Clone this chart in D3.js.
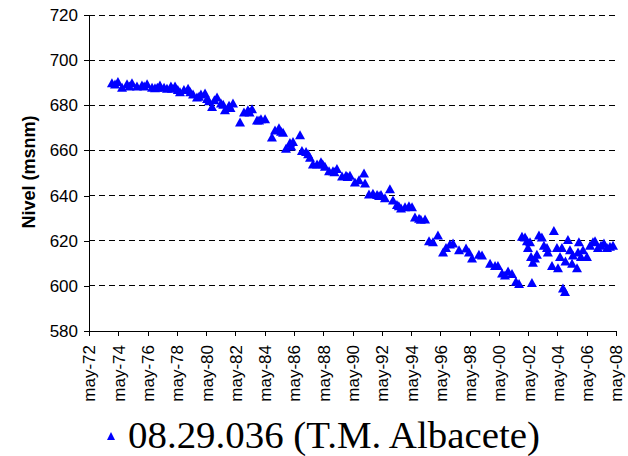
<!DOCTYPE html>
<html>
<head>
<meta charset="utf-8">
<script src="https://cdn.jsdelivr.net/npm/d3@7"></script>
<style>
  html, body { margin: 0; padding: 0; background: #ffffff; }
  svg { display: block; }
  .legend-text { font-family: "Liberation Serif", "DejaVu Serif", "Times New Roman", Times, serif; }
</style>
</head>
<body>
<svg id="chart" width="628" height="456"></svg>
<script>
// ---- Data (decimal year of measurement, level in m s.n.m.) ----
const seriesName = "08.29.036 (T.M. Albacete)";
const dates = [
  1973.90, 1974.11, 1974.31, 1974.59, 1974.93, 1975.27, 1975.61, 1975.95, 1976.30, 1976.64,
  1976.84, 1977.18, 1977.46, 1977.66, 1977.93, 1978.21, 1978.55, 1978.82, 1979.10, 1979.44,
  1979.71, 1979.98, 1980.26, 1980.53, 1980.74, 1981.08, 1981.35, 1981.62, 1981.90, 1982.17,
  1982.65, 1982.92, 1983.19, 1983.47, 1983.81, 1984.08, 1984.36, 1984.83, 1985.04, 1985.31,
  1985.59, 1985.79, 1986.06, 1986.27, 1986.75, 1986.88, 1987.16, 1987.43, 1987.63, 1987.91,
  1988.18, 1988.45, 1988.73, 1989.00, 1989.27, 1989.62, 1989.89, 1990.16, 1990.50, 1990.78,
  1991.12, 1991.19, 1991.46, 1991.73, 1992.01, 1992.28, 1992.55, 1992.89, 1993.10, 1993.37,
  1993.65, 1993.92, 1994.19, 1994.40, 1994.60, 1994.88, 1995.29, 1995.56, 1995.83, 1996.17,
  1996.52, 1996.72, 1996.99, 1997.20, 1997.61, 1998.09, 1998.29, 1998.50, 1998.97, 1999.18,
  1999.73, 2000.07, 2000.27, 2000.55, 2000.75, 2000.96, 2001.23, 2001.50, 2001.71,
  2001.91, 2002.12, 2002.25, 2002.32, 2002.46, 2002.53, 2002.59, 2002.66, 2002.80, 2002.93,
  2003.07, 2003.27, 2003.41, 2003.62, 2003.68, 2003.96, 2004.09, 2004.30, 2004.37, 2004.51,
  2004.64, 2004.71, 2004.85, 2004.88, 2005.05, 2005.19, 2005.33, 2005.39, 2005.67, 2005.74,
  2005.80, 2005.94, 2006.08, 2006.35, 2006.56, 2006.76, 2006.90, 2007.10, 2007.31, 2007.51,
  2007.72, 2007.92, 2008.13,
  1975.10, 1976.10, 1977.00, 1978.00, 1978.40, 1979.25, 1979.85, 1980.40, 1980.90, 1981.50,
  1982.00, 1983.30, 1983.95, 1985.45, 1986.15, 1987.30, 1988.30, 1989.10, 1990.00, 1992.15,
  1993.50, 1995.00
];
const levels = [
  690, 689.4, 690.5, 688, 689.5, 690, 688.5, 689, 689.5, 688,
  687.8, 689, 688, 687.6, 688.5, 688.5, 686, 687, 687.6, 685,
  683.7, 685, 685.4, 682, 679.5, 683.7, 681, 678, 680, 681,
  672.6, 677, 678, 678.5, 673.5, 674, 674, 666, 669, 670,
  668, 661, 663.5, 664, 667, 660, 659.5, 657, 654, 654,
  655, 653, 651, 651, 652, 648.7, 649, 649, 646, 647,
  650, 645.6, 640.7, 641, 640.5, 640.5, 639, 643, 638, 636,
  634.5, 635, 635.5, 635, 630.5, 630, 629.6, 620, 619.5, 622.5,
  615, 617, 618.5, 619, 616, 616.8, 615, 612.3, 614, 613.7,
  610, 609, 609, 605.7, 604.8, 606.6, 605.5, 602, 601,
  622, 621.6, 620, 617, 619.5, 613, 601.5, 610.5, 612.3, 614,
  622.5, 621.6, 618, 617, 615, 609, 624.5, 617, 608, 613,
  617, 599, 597.5, 611, 620.5, 616, 610, 613.7, 608, 615,
  619.5, 613, 616, 613, 618, 619.5, 620, 617, 618, 619,
  617, 617.5, 618,
  688.5, 688.5, 688, 687.5, 687, 686, 684, 683, 682.5, 680.5,
  679, 677, 673.5, 668.5, 662, 658.5, 654, 650.5, 648.5, 640,
  635.5, 629.5
];
const xTickYears = [1972, 1974, 1976, 1978, 1980, 1982, 1984, 1986, 1988, 1990,
                    1992, 1994, 1996, 1998, 2000, 2002, 2004, 2006, 2008];
const xTickLabels = ["may-72", "may-74", "may-76", "may-78", "may-80", "may-82", "may-84",
                     "may-86", "may-88", "may-90", "may-92", "may-94", "may-96", "may-98",
                     "may-00", "may-02", "may-04", "may-06", "may-08"];
const yTicks = [580, 600, 620, 640, 660, 680, 700, 720];
const yTitle = "Nivel (msnm)";

(function () {
// ---- Layout ----
const svg = d3.select("#chart");
const pLeft = 89, pRight = 616, pTop = 15, pBottom = 331;
const MAY = 4 / 12;

const x = d3.scaleLinear().domain([1972 + MAY, 2008 + MAY]).range([pLeft, pRight]);
const y = d3.scaleLinear().domain([580, 720]).range([pBottom, pTop]);

// gridlines
svg.append("g").selectAll("line")
  .data(yTicks.filter(v => v > 580))
  .join("line")
  .attr("x1", pLeft).attr("x2", pRight)
  .attr("y1", d => y(d)).attr("y2", d => y(d))
  .attr("stroke", "#000").attr("stroke-width", 1)
  .attr("stroke-dasharray", "6,4")
  .attr("shape-rendering", "crispEdges");

// y axis
const yAxis = d3.axisLeft(y).tickValues(yTicks).tickSize(5).tickSizeOuter(0).tickPadding(6);
const gy = svg.append("g").attr("transform", `translate(${pLeft},0)`).call(yAxis);
gy.select(".domain").attr("stroke", "#000").attr("shape-rendering", "crispEdges");
gy.selectAll(".tick line").attr("stroke", "#000").attr("shape-rendering", "crispEdges");
gy.selectAll("text")
  .attr("font-family", "'Liberation Sans', Arial, sans-serif")
  .attr("font-size", 17).attr("fill", "#000");

// x axis
const xAxis = d3.axisBottom(x)
  .tickValues(xTickYears.map(v => v + MAY))
  .tickFormat((d, i) => xTickLabels[i])
  .tickSize(5).tickSizeOuter(0);
const gx = svg.append("g").attr("transform", `translate(0,${pBottom})`).call(xAxis);
gx.select(".domain").attr("stroke", "#000").attr("shape-rendering", "crispEdges");
gx.selectAll(".tick line").attr("stroke", "#000").attr("shape-rendering", "crispEdges");
gx.selectAll("text")
  .attr("font-family", "'Liberation Sans', Arial, sans-serif")
  .attr("font-size", 17).attr("fill", "#000")
  .attr("transform", "rotate(-90)")
  .attr("text-anchor", "end")
  .attr("x", -14).attr("y", 0).attr("dy", "0.35em");

// y title
svg.append("text")
  .attr("transform", `translate(35,172) rotate(-90)`)
  .attr("text-anchor", "middle")
  .attr("font-family", "'Liberation Sans', Arial, sans-serif")
  .attr("font-weight", "bold")
  .attr("font-size", 18)
  .text(yTitle);

// triangle marker
const tri = (w, h) => {
  const p = d3.path();
  p.moveTo(0, -h / 2); p.lineTo(w / 2, h / 2); p.lineTo(-w / 2, h / 2); p.closePath();
  return p.toString();
};

const pts = dates.map((d, i) => ({ d, v: levels[i] }));
svg.append("g").selectAll("path")
  .data(pts)
  .join("path")
  .attr("d", tri(10, 9))
  .attr("transform", p => `translate(${x(p.d)},${y(p.v)})`)
  .attr("fill", "#0000ff");

// legend
const lg = svg.append("g").attr("transform", "translate(111,436)");
lg.append("path").attr("d", tri(8, 8)).attr("fill", "#0000ff");
lg.append("text")
  .attr("class", "legend-text")
  .attr("x", 17).attr("y", 12)
  .attr("font-size", 38)
  .attr("textLength", 412)
  .attr("lengthAdjust", "spacingAndGlyphs")
  .attr("fill", "#000")
  .text(seriesName);
})();
</script>
</body>
</html>
